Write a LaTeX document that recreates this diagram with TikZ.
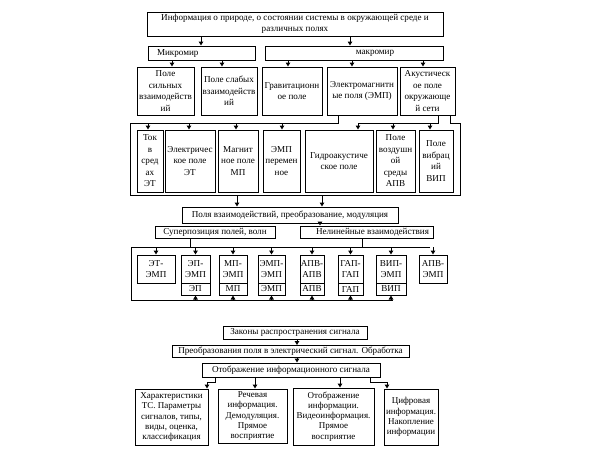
\documentclass[tikz,border=0pt]{standalone}
\usepackage{fontspec}
\setmainfont{Liberation Serif}
\usetikzlibrary{arrows.meta}
\newcommand{\mkbox}[7][]{\node[box,#1,minimum width={#5pt-#3pt},minimum height={#6pt-#4pt}] (#2) at ({(#3+#5)/2},{(#4+#6)/2}) {#7};}
\begin{document}
\begin{tikzpicture}[x=1pt,y=-1pt,
  box/.style={draw, line width=1pt, inner sep=0pt, align=center, font=\fontsize{9.1}{11.5}\selectfont},
  arr/.style={line width=1pt, -{Triangle[length=4pt,width=4.5pt]}},
  ln/.style={line width=1pt}]
\fill[white] (0,0) rectangle (591,451);
\useasboundingbox (0,0) rectangle (591,451);
% x positions
\foreach \v in {148,172,189,190,201,207,215,222,236,237,255,282,288,297,320,322,338,340,350,352,358,362,370,387,393,423,430,438,450}
  {\coordinate (X\v) at (\v,0);}
% row 1-2
\mkbox{top}{147}{12}{443}{36}{Информация о природе, о состоянии системы в окружающей среде и\\различных полях}
\mkbox[align=left,text width=89pt]{mikro}{148}{46}{255}{60}{Микромир}
\mkbox{makro}{265}{46}{443}{60}{\hspace*{42pt}макромир}
% row 3
\mkbox{r3a}{137}{67}{194}{115}{Поле\\сильных\\взаимодейств\\ий}
\mkbox{r3b}{201}{67}{257}{115}{Поле слабых\\взаимодейств\\ий}
\mkbox{r3c}{262}{67}{322}{115}{Гравитационн\\ое поле}
\mkbox{r3d}{327}{67}{397}{115}{Электромагнитн\\ые поля (ЭМП)}
\mkbox{r3e}{400}{67}{455}{115}{Акустическ\\ое поле\\окружающе\\й сети}
% row 4
\mkbox{r4a}{137}{130}{163}{192}{Ток\\в\\сред\\ах\\ЭТ}
\mkbox{r4b}{165}{130}{215}{192}{Электричес\\кое поле\\ЭТ}
\mkbox{r4c}{218}{130}{258}{192}{Магнит\\ное поле\\МП}
\mkbox{r4d}{263}{130}{300}{192}{ЭМП\\перемен\\ное}
\mkbox{r4e}{305}{130}{373}{192}{Гидроакустиче\\ское поле}
\mkbox{r4f}{376}{130}{415}{192}{Поле\\воздушн\\ой\\среды\\АПВ}
\mkbox{r4g}{419}{130}{453}{192}{Поле\\вибрац\\ий\\ВИП}
% row 5-6
\mkbox{pola}{182}{207}{398}{223}{Поля взаимодействий, преобразование, модуляция}
\mkbox{super}{155}{226}{275}{238}{Суперпозиция полей, волн}
\mkbox{neline}{300}{226}{433}{238}{\hspace*{12pt}Нелинейные взаимодействия}
% row 7
\mkbox{r7a}{137}{255}{175}{283}{ЭТ-\\ЭМП}
\mkbox{r7b}{181}{255}{210}{283}{ЭП-\\ЭМП}
\mkbox{r7bl}{181}{283}{210}{295}{ЭП}
\mkbox{r7c}{219}{255}{247}{283}{МП-\\ЭМП}
\mkbox{r7cl}{219}{283}{247}{295}{МП}
\mkbox{r7d}{258}{255}{285}{283}{ЭМП-\\ЭМП}
\mkbox{r7dl}{258}{283}{285}{295}{ЭМП}
\mkbox{r7e}{300}{255}{324}{283}{АПВ-\\АПВ}
\mkbox{r7el}{300}{283}{324}{295}{АПВ}
\mkbox{r7f}{338}{255}{363}{283}{ГАП-\\ГАП}
\mkbox{r7fl}{338}{283}{363}{295}{ГАП}
\mkbox{r7g}{376}{255}{406}{283}{ВИП-\\ЭМП}
\mkbox{r7gl}{376}{283}{406}{295}{ВИП}
\mkbox{r7h}{419}{255}{447}{283}{АПВ-\\ЭМП}
% row 8
\mkbox{zakon}{223}{326}{367}{339}{Законы распространения сигнала}
\mkbox{preob}{172}{345.5}{409}{357.5}{Преобразования поля в электрический сигнал. Обработка}
\mkbox{otobr}{202}{363}{380}{377}{Отображение информационного сигнала}
% bottom row
\tikzset{bot/.style={font=\fontsize{9}{10.2}\selectfont}}
\mkbox[bot]{b1}{135}{389}{208}{445}{Характеристики\\ТС. Параметры\\сигналов, типы,\\виды, оценка,\\классификация}
\mkbox[bot]{b2}{218}{389}{287}{443}{Речевая\\информация.\\Демодуляция.\\Прямое\\восприятие}
\mkbox[bot]{b3}{293}{388}{374}{445}{Отображение\\информации.\\Видеоинформация.\\Прямое\\восприятие}
\mkbox[bot]{b4}{384}{389}{438}{445}{Цифровая\\информация.\\Накопление\\информации}
% arrows top
\draw[arr] (top.south -| X201) -- (mikro.north -| X201);
\draw[arr] (top.south -| X350) -- (makro.north -| X350);
\draw[arr] (mikro.south -| X172) -- (r3a.north -| X172);
\draw[arr] (mikro.south -| X222) -- (r3b.north -| X222);
\draw[arr] (makro.south -| X288) -- (r3c.north -| X288);
\draw[arr] (makro.south -| X352) -- (r3d.north -| X352);
\draw[arr] (makro.south -| X423) -- (r3e.north -| X423);
% frame 1
\coordinate (f1tl) at (130,123);
\coordinate (f1bl) at (130,195);
\coordinate (f1br) at (460,195);
\coordinate (f1tr) at (460,123);
\draw[ln] (r3d.south -| X338) |- (f1tl) -- (f1bl) -- (f1br) -- (f1tr) -| (r3e.south -| X450);
\draw[ln] (r3e.south -| X438) |- (X358 |- f1tl);
\draw[arr] (X148 |- f1tl) -- (r4a.north -| X148);
\draw[arr] (X189 |- f1tl) -- (r4b.north -| X189);
\draw[arr] (X236 |- f1tl) -- (r4c.north -| X236);
\draw[arr] (X282 |- f1tl) -- (r4d.north -| X282);
\draw[arr] (X358 |- f1tl) -- (r4e.north -| X358);
\draw[arr] (X393 |- f1tl) -- (r4f.north -| X393);
\draw[arr] (X430 |- f1tl) -- (r4g.north -| X430);
\draw[arr] (X237 |- f1bl) -- (pola.north -| X237);
\draw[arr] (X322 |- f1bl) -- (pola.north -| X322);
\draw[arr] (pola.south -| X320) -- (neline.north -| X320);
% frame 2
\coordinate (f2tl) at (131,247);
\coordinate (f2bl) at (131,300);
\coordinate (f2tr) at (430,247);
\coordinate (f2br) at (393,300);
\draw[ln] (super.south -| X190) -- (X190 |- f2tl);
\draw[ln] (neline.south -| X362) -- (X362 |- f2tl);
\draw[ln] (f2tr) -- (f2tl) -- (f2bl) -- (f2br);
\foreach \n in {r7a,r7b,r7c,r7d,r7e,r7f,r7g,r7h}
  {\draw[arr] (\n.north |- f2tl) -- (\n.north);}
\foreach \n in {r7bl,r7cl,r7dl,r7el,r7fl,r7gl}
  {\draw[arr] (\n.south |- f2bl) -- (\n.south);}
% lower chain
\draw[arr] (zakon.south -| X297) -- (preob.north -| X297);
\draw[arr] (preob.south -| X297) -- (otobr.north -| X297);
\coordinate (yb) at (0,382);
\draw[arr] (otobr.south -| X215) |- (X207 |- yb) -- (b1.north -| X207);
\draw[arr] (otobr.south -| X255) -- (b2.north -| X255);
\draw[arr] (otobr.south -| X340) -- (b3.north -| X340);
\draw[arr] (otobr.south -| X370) |- (X387 |- yb) -- (b4.north -| X387);
\end{tikzpicture}
\end{document}
